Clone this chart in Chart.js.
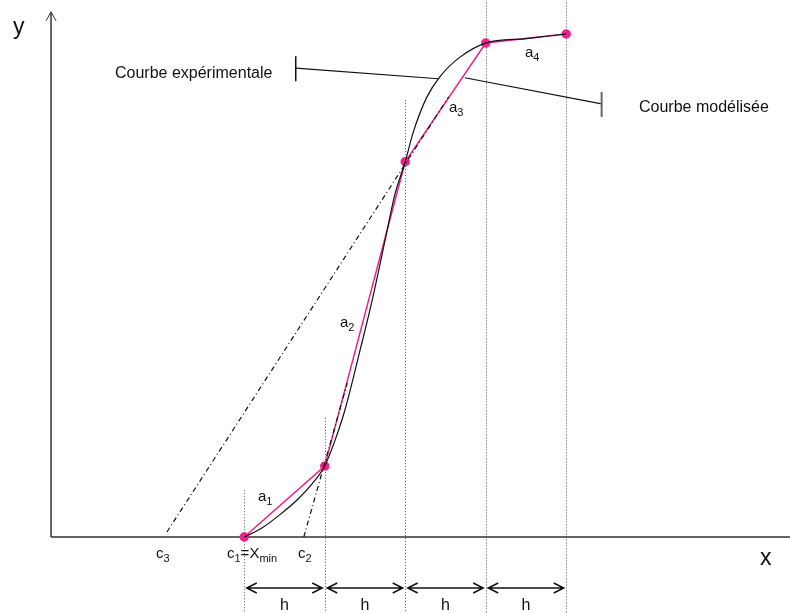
<!DOCTYPE html>
<html>
<head>
<meta charset="utf-8">
<script src="https://cdn.jsdelivr.net/npm/chart.js@4"></script>
<style>
  html, body { margin: 0; padding: 0; background: #fff; }
  #wrap { width: 790px; height: 613px; }
</style>
</head>
<body>
<div id="wrap"><canvas id="graf" width="790" height="613"></canvas></div>
<script>
// Noeuds du modèle : c1 = Xmin, pas h = 1
const xNoeuds = [2.4, 3.4, 4.4, 5.4, 6.4];
const yModele = [0, 1.41, 7.46, 9.82, 10.0];

// Courbe expérimentale
const xExp = [2.4, 2.62, 2.84, 3.06, 3.24, 3.4, 3.53, 3.65, 3.84, 3.99, 4.15, 4.27, 4.4, 4.5, 4.67, 4.83, 5.08, 5.4, 5.9, 6.4];
const yExp = [0, 0.18, 0.44, 0.74, 1.05, 1.41, 1.93, 2.52, 3.72, 4.71, 5.9, 6.8, 7.46, 8.05, 8.75, 9.15, 9.54, 9.82, 9.91, 10.0];

// Tangentes (traits mixtes)
const xTangC3 = [1.44, 4.94];
const yTangC3 = [0.10, 8.75];
const xTangC2 = [3.14, 3.68];
const yTangC2 = [0, 3.06];

const ROSE = '#f0208c';
const POLICE = '"Liberation Sans", Arial, sans-serif';

function points(xs, ys) {
    return xs.map((x, i) => ({ x: x, y: ys[i] }));
}

// Texte avec indices : segments [texte, estIndice]
function texte(ctx, x, y, segments, taille) {
    let cx = x;
    segments.forEach(([t, indice]) => {
        const s = indice ? Math.round(taille * 0.72) : taille;
        ctx.font = s + 'px ' + POLICE;
        ctx.fillText(t, cx, indice ? y + 4 : y);
        cx += ctx.measureText(t).width;
    });
}

const decor = {
    id: 'decor',
    beforeDatasetsDraw(chart) {
        const ctx = chart.ctx;
        const sx = chart.scales.x, sy = chart.scales.y;
        const x0 = sx.getPixelForValue(0), y0 = sy.getPixelForValue(0);
        ctx.save();

        // lignes verticales pointillées
        const hautsGuides = [0.93, 2.37, 8.69, 12, 12];
        ctx.strokeStyle = '#555';
        ctx.lineWidth = 1;
        ctx.setLineDash([1, 2]);
        xNoeuds.forEach((u, i) => {
            const px = Math.round(sx.getPixelForValue(u)) + 0.5;
            ctx.beginPath();
            ctx.moveTo(px, sy.getPixelForValue(hautsGuides[i]));
            ctx.lineTo(px, chart.height);
            ctx.stroke();
        });
        ctx.setLineDash([]);

        // axes
        ctx.strokeStyle = '#333';
        ctx.lineWidth = 1.5;
        const yHaut = sy.getPixelForValue(10.44);
        ctx.beginPath();
        ctx.moveTo(x0, y0);
        ctx.lineTo(x0, yHaut);
        ctx.moveTo(x0, y0);
        ctx.lineTo(chart.width, y0);
        ctx.stroke();
        ctx.lineWidth = 1;
        ctx.beginPath();
        ctx.moveTo(x0 - 5, yHaut + 9);
        ctx.lineTo(x0, yHaut);
        ctx.lineTo(x0 + 5, yHaut + 9);
        ctx.stroke();

        // traits de repère des légendes
        ctx.strokeStyle = '#111';
        ctx.lineWidth = 1.2;
        const l1a = [sx.getPixelForValue(3.04), sy.getPixelForValue(9.32)];
        const l1b = [sx.getPixelForValue(4.81), sy.getPixelForValue(9.11)];
        const l2a = [sx.getPixelForValue(5.14), sy.getPixelForValue(9.13)];
        const l2b = [sx.getPixelForValue(6.84), sy.getPixelForValue(8.61)];
        ctx.beginPath();
        ctx.moveTo(l1a[0], l1a[1]); ctx.lineTo(l1b[0], l1b[1]);
        ctx.moveTo(l2a[0], l2a[1]); ctx.lineTo(l2b[0], l2b[1]);
        ctx.stroke();
        ctx.lineWidth = 1.5;
        ctx.beginPath();
        ctx.moveTo(l1a[0], l1a[1] - 12); ctx.lineTo(l1a[0], l1a[1] + 13);
        ctx.stroke();
        ctx.strokeStyle = '#666';
        ctx.lineWidth = 2;
        ctx.beginPath();
        ctx.moveTo(l2b[0], l2b[1] - 12); ctx.lineTo(l2b[0], l2b[1] + 13);
        ctx.stroke();

        // flèches h
        ctx.strokeStyle = '#111';
        ctx.lineWidth = 1.5;
        const yf = 588;
        for (let i = 0; i < xNoeuds.length - 1; i++) {
            const a = sx.getPixelForValue(xNoeuds[i]) + 2.5;
            const b = sx.getPixelForValue(xNoeuds[i + 1]) - 2.5;
            ctx.beginPath();
            ctx.moveTo(a, yf); ctx.lineTo(b, yf);
            ctx.moveTo(a + 10, yf - 5); ctx.lineTo(a, yf); ctx.lineTo(a + 10, yf + 5);
            ctx.moveTo(b - 10, yf - 5); ctx.lineTo(b, yf); ctx.lineTo(b - 10, yf + 5);
            ctx.stroke();
        }
        ctx.restore();
    },
    afterDatasetsDraw(chart) {
        const ctx = chart.ctx;
        const sx = chart.scales.x;
        ctx.save();
        ctx.fillStyle = '#111';
        ctx.textBaseline = 'alphabetic';
        ctx.textAlign = 'left';

        texte(ctx, 115, 78, [['Courbe expérimentale', false]], 16);
        texte(ctx, 639, 112, [['Courbe modélisée', false]], 16);

        texte(ctx, 258, 501, [['a', false], ['1', true]], 15);
        texte(ctx, 340, 327, [['a', false], ['2', true]], 15);
        texte(ctx, 449, 112, [['a', false], ['3', true]], 15);
        texte(ctx, 525, 57, [['a', false], ['4', true]], 15);

        texte(ctx, 156, 558, [['c', false], ['3', true]], 15);
        texte(ctx, 227, 558, [['c', false], ['1', true], ['=X', false], ['min', true]], 15);
        texte(ctx, 298, 558, [['c', false], ['2', true]], 15);

        ctx.textAlign = 'center';
        ctx.font = '16px ' + POLICE;
        for (let i = 0; i < xNoeuds.length - 1; i++) {
            const m = (sx.getPixelForValue(xNoeuds[i]) + sx.getPixelForValue(xNoeuds[i + 1])) / 2;
            ctx.fillText('h', m, 610);
        }

        ctx.textAlign = 'left';
        ctx.font = '23px ' + POLICE;
        ctx.fillText('x', 760, 565);
        ctx.fillText('y', 13, 34);
        ctx.restore();
    }
};

new Chart(document.getElementById('graf'), {
    type: 'scatter',
    data: {
        datasets: [
            {
                label: 'Courbe expérimentale',
                data: points(xExp, yExp),
                showLine: true,
                borderColor: '#111',
                borderWidth: 1.2,
                pointRadius: 0,
                cubicInterpolationMode: 'monotone',
                clip: false
            },
            {
                label: 'Tangente c3',
                data: points(xTangC3, yTangC3),
                showLine: true,
                borderColor: '#111',
                borderWidth: 1.2,
                borderDash: [5, 3, 1, 3],
                pointRadius: 0,
                clip: false
            },
            {
                label: 'Tangente c2',
                data: points(xTangC2, yTangC2),
                showLine: true,
                borderColor: '#111',
                borderWidth: 1.2,
                borderDash: [5, 3, 1, 3],
                pointRadius: 0,
                clip: false
            },
            {
                label: 'Courbe modélisée',
                data: points(xNoeuds, yModele),
                showLine: true,
                borderColor: ROSE,
                borderWidth: 1.5,
                pointRadius: 4,
                pointBackgroundColor: ROSE,
                pointBorderColor: ROSE,
                clip: false
            }
        ]
    },
    options: {
        responsive: false,
        animation: false,
        layout: { padding: 0, autoPadding: false },
        scales: {
            x: { type: 'linear', min: -0.634, max: 9.18, display: false },
            y: { type: 'linear', min: -1.511, max: 10.676, display: false }
        },
        plugins: {
            legend: { display: false },
            tooltip: { enabled: false }
        }
    },
    plugins: [decor]
});
</script>
</body>
</html>
